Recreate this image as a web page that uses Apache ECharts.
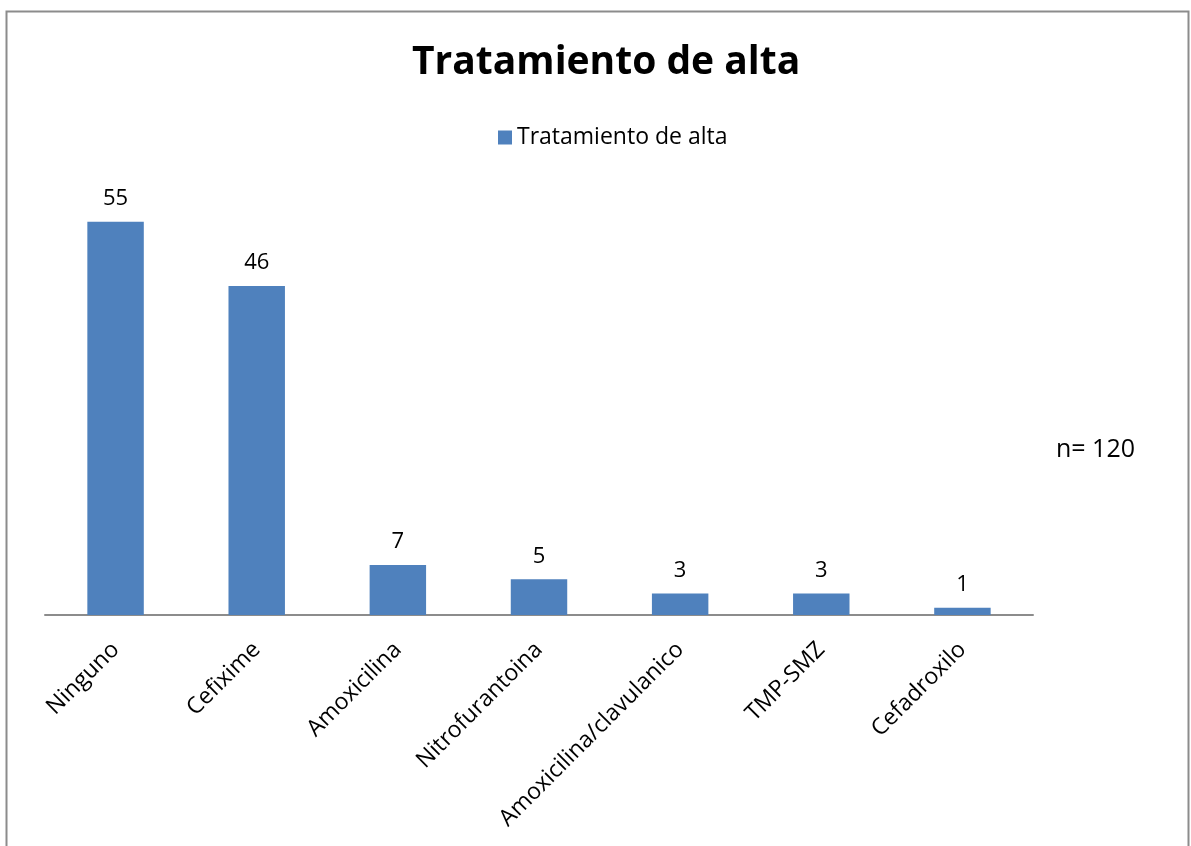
<!DOCTYPE html>
<html>
<head>
<meta charset="utf-8">
<script src="https://cdn.jsdelivr.net/npm/echarts@6/dist/echarts.min.js"></script>
<style>
  html, body { margin: 0; padding: 0; background: #ffffff; }
  #chart { width: 1191px; height: 846px; }
</style>
</head>
<body>
<div id="chart"></div>
<script>
// Discharge treatment counts
const categories = ['Ninguno', 'Cefixime', 'Amoxicilina', 'Nitrofurantoina', 'Amoxicilina/clavulanico', 'TMP-SMZ', 'Cefadroxilo'];
const values = [55, 46, 7, 5, 3, 3, 1];
const seriesName = 'Tratamiento de alta';
const titleText = 'Tratamiento de alta';
const sampleNote = 'n= 120';

const FONT = 'Open Sans';
const chart = echarts.init(document.getElementById('chart'), null, { renderer: 'canvas' });

chart.setOption({
  backgroundColor: '#ffffff',
  animation: false,
  title: {
    text: titleText,
    left: 407,
    top: 38,
    textStyle: { fontFamily: FONT, fontWeight: 'bold', fontSize: 39, color: '#000000' }
  },
  legend: {
    data: [seriesName],
    top: 121,
    left: 493,
    icon: 'rect',
    itemWidth: 14,
    itemHeight: 14,
    itemGap: 5,
    textStyle: { fontFamily: FONT, fontSize: 23, color: '#000000' }
  },
  grid: { left: 45, right: 158, top: 186, bottom: 231 },
  xAxis: {
    type: 'category',
    data: categories,
    axisLine: { show: true, lineStyle: { color: '#8c8c8c', width: 2 } },
    axisTick: { show: false },
    axisLabel: {
      rotate: 45,
      interval: 0,
      margin: 31,
      fontFamily: FONT,
      fontSize: 23,
      color: '#000000'
    }
  },
  yAxis: {
    type: 'value',
    min: 0,
    max: 60,
    show: false
  },
  series: [{
    name: seriesName,
    type: 'bar',
    data: values,
    barWidth: '40%',
    itemStyle: { color: '#4f81bd' },
    label: {
      show: true,
      position: 'top',
      distance: 12,
      fontFamily: FONT,
      fontSize: 22,
      color: '#000000'
    }
  }],
  graphic: [
    {
      type: 'rect',
      shape: { x: 6.5, y: 11.5, width: 1182, height: 860 },
      style: { fill: null, stroke: '#8c8c8c', lineWidth: 2 },
      silent: true
    },
    {
      type: 'text',
      left: 1056,
      top: 437,
      style: { text: sampleNote, fontFamily: FONT, fontSize: 25, fill: '#000000' }
    }
  ]
});
</script>
</body>
</html>
